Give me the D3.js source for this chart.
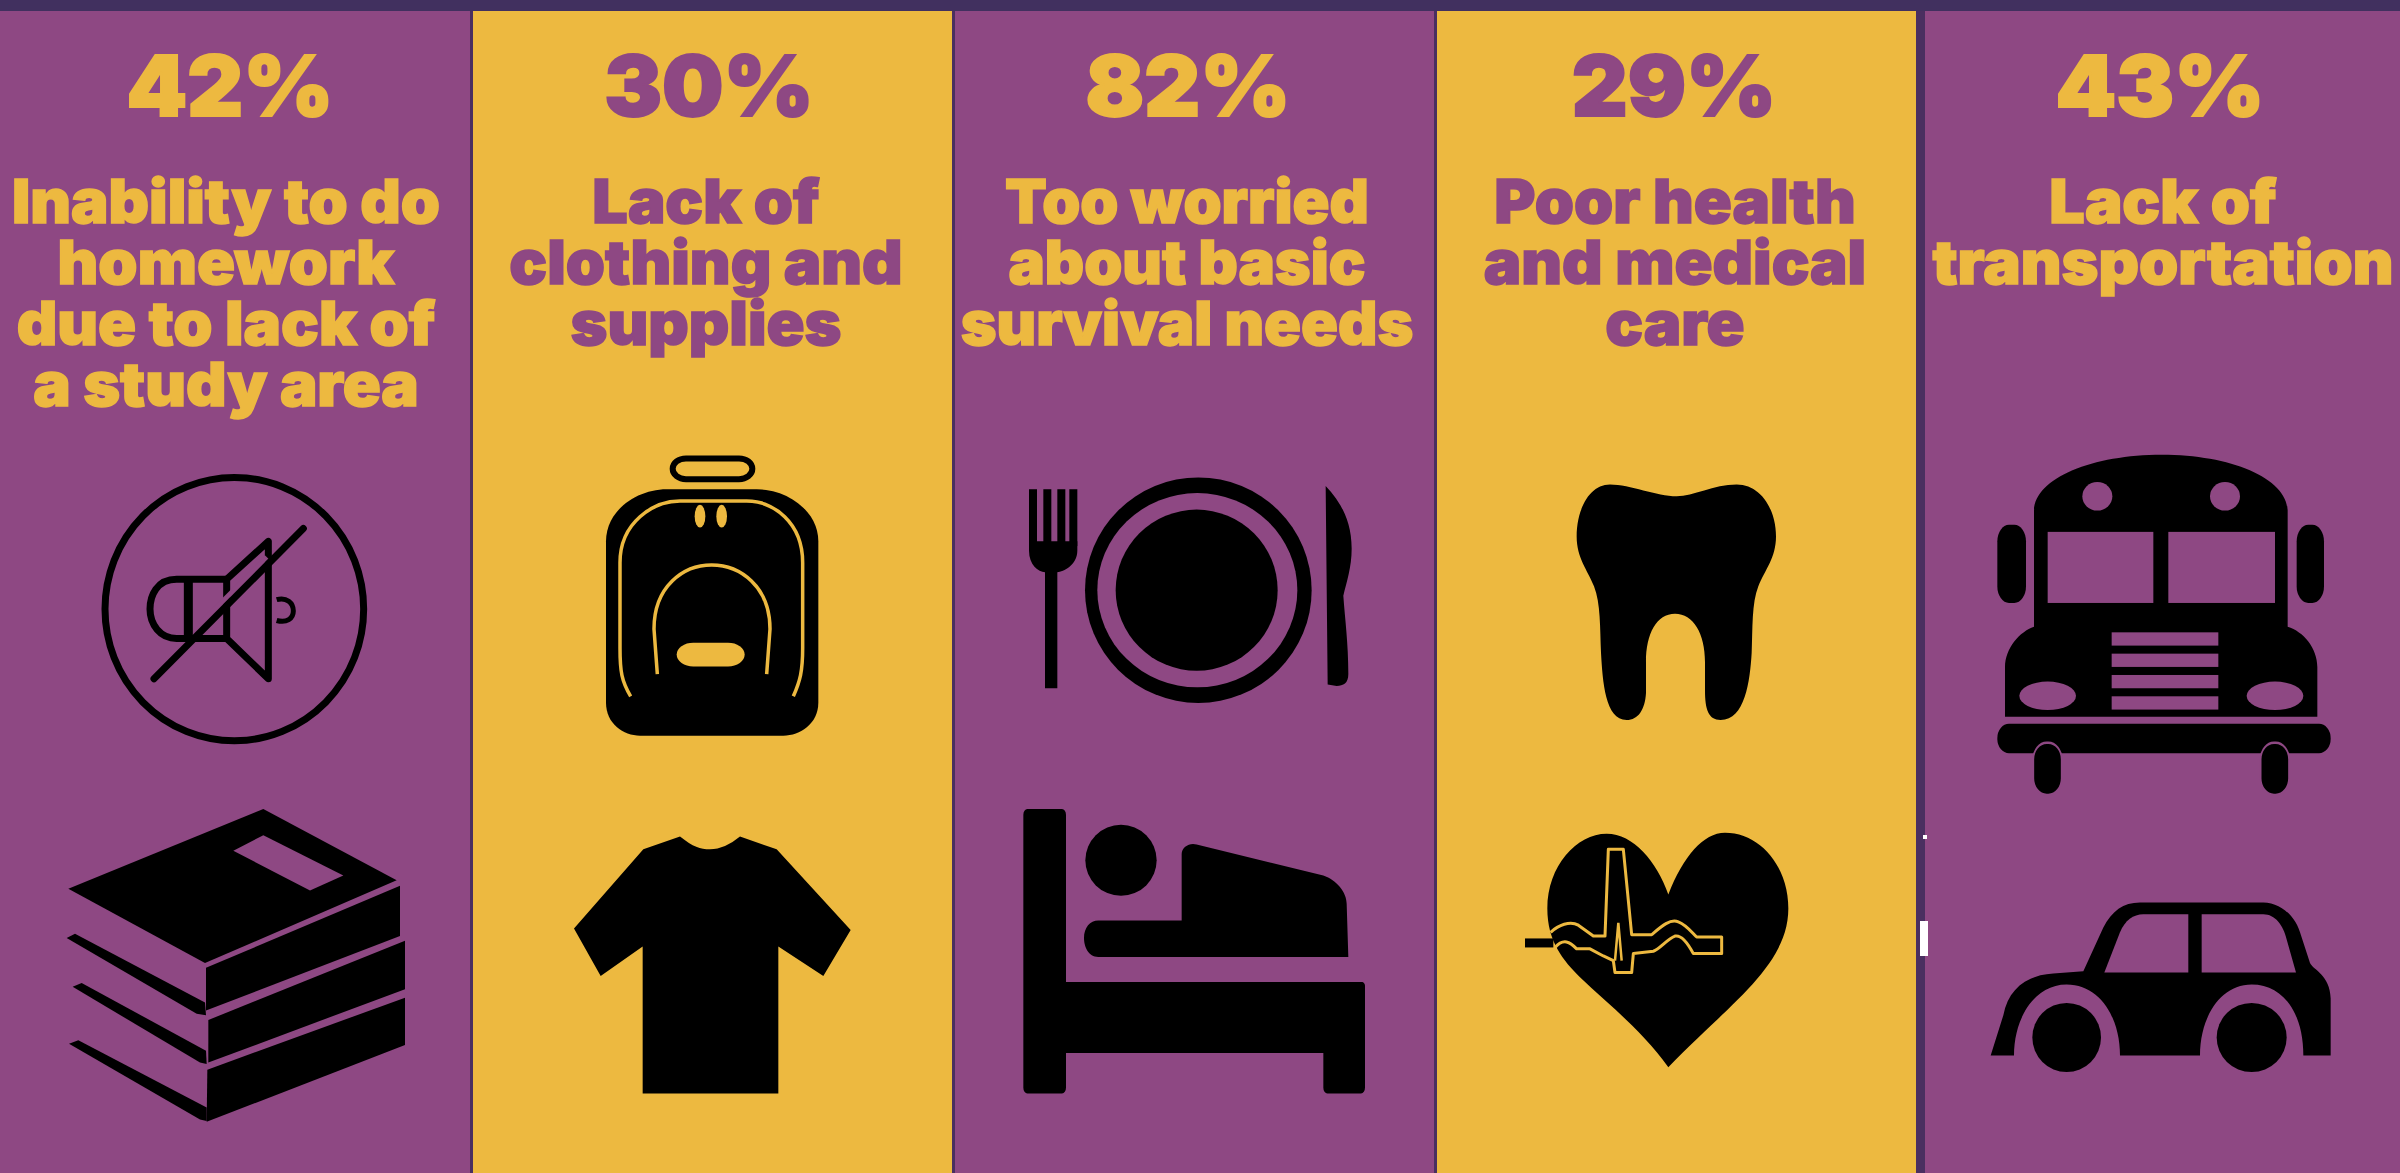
<!DOCTYPE html>
<html>
<head>
<title>Barriers</title>
<script src="https://d3js.org/d3.v7.min.js" charset="utf-8"></script>
<style>
html, body { margin: 0; padding: 0; background: #8e4883; overflow: hidden; }
svg { display: block; filter: blur(0.7px); }
text { font-family: "Inter", sans-serif; font-weight: 900; text-anchor: middle; }
.line { fill: none; stroke: #000; vector-effect: non-scaling-stroke; }
.line * { vector-effect: non-scaling-stroke; }
</style>
</head>
<body>
<script>
// values
var categories = ["study", "clothing", "survival", "health", "transport"];
var percents = [42, 30, 82, 29, 43];
var labels = [
  ["Inability to do", "homework", "due to lack of", "a study area"],
  ["Lack of", "clothing and", "supplies"],
  ["Too worried", "about basic", "survival needs"],
  ["Poor health", "and medical", "care"],
  ["Lack of", "transportation"]
];

var width = 2400, height = 1173;
var purple = "#8e4883", yellow = "#edb940", dark = "#41305f";

var x = d3.scaleBand().domain(categories).range([-10, 2400]);
var percentNudge = d3.scaleOrdinal().domain(categories).range([-1, -4, -7, -3, 1]);
var labelNudge = d3.scaleOrdinal().domain(categories).range([-5, -7, -8, -2, 4]);
var labelStretch = d3.scaleOrdinal().domain(categories).range([1.03, 1.03, 1, 1.03, 1.03]);
var iconNudge = d3.scaleOrdinal().domain(categories).range([10, 8, 6, -6, 2]);

var svg = d3.select("body").append("svg")
  .attr("width", width).attr("height", height);

var col = svg.selectAll("g.col")
  .data(categories)
  .enter().append("g")
  .attr("class", "col");

col.append("rect")
  .attr("x", function(d) { return x(d); })
  .attr("y", 0)
  .attr("width", x.bandwidth())
  .attr("height", height)
  .attr("fill", function(d, i) { return i % 2 ? yellow : purple; });

// thin dark seams between the columns
svg.selectAll("rect.seam")
  .data(categories.slice(1))
  .enter().append("rect")
  .attr("class", "seam")
  .attr("x", function(d) { return x(d) - 2; })
  .attr("y", 0)
  .attr("width", function(d, i) { return i == 3 ? 9 : 3; })
  .attr("height", height)
  .attr("fill", "#4a2f60");

svg.append("rect").attr("width", width).attr("height", 11).attr("fill", dark);

// percent
col.append("text")
  .attr("transform", function(d) {
    return "translate(" + (x(d) + x.bandwidth() / 2 + percentNudge(d)) + ",116) scale(1.03,1)";
  })
  .attr("font-size", 84)
  .attr("stroke-width", 2)
  .attr("fill", function(d, i) { return i % 2 ? purple : yellow; })
  .attr("stroke", function(d, i) { return i % 2 ? purple : yellow; })
  .text(function(d, i) { return percents[i] + "%"; });

// label lines
col.each(function(d, i) {
  d3.select(this).selectAll("text.label")
    .data(labels[i])
    .enter().append("text")
    .attr("class", "label")
    .attr("transform", function(t, j) {
      return "translate(" + (x(d) + x.bandwidth() / 2 + labelNudge(d)) + "," + (223 + j * 61) + ") scale(" + labelStretch(d) + ",1)";
    })
    .attr("font-size", 61)
    .attr("stroke-width", 1.5)
    .attr("fill", i % 2 ? purple : yellow)
    .attr("stroke", i % 2 ? purple : yellow)
    .text(t => t);
});

// icons are traced in crop units, so each sits in a squashed frame
var icons = col.append("g")
  .attr("transform", function(d) {
    return "translate(" + (x(d) + iconNudge(d)) + ",430) scale(" + (1 / 3) + "," + (743 / 1568) + ")";
  });

function path(g, d, fill) { return g.append("path").attr("d", d).attr("fill", fill || "#000"); }
function ell(g, cx, cy, rx, ry, fill) {
  return g.append("ellipse").attr("cx", cx).attr("cy", cy).attr("rx", rx).attr("ry", ry).attr("fill", fill || "#000");
}
function box(g, a, b, w, h, rx, ry, fill) {
  return g.append("rect").attr("x", a).attr("y", b).attr("width", w).attr("height", h)
    .attr("rx", rx || 0).attr("ry", ry || 0).attr("fill", fill || "#000");
}

// --- speaker and books
var g = icons.filter(function(d) { return d == "study"; });
var s = g.append("g").attr("class", "line").attr("stroke-width", 7);
s.append("ellipse").attr("cx", 703).attr("cy", 378).attr("rx", 388).attr("ry", 278);
s.append("path").attr("d", "M680,315 L805,235 L805,525 L680,440 Z").attr("stroke-linejoin", "round");
s.append("path").attr("d", "M680,315 L530,315 C470,315 450,350 450,378 C450,410 480,440 530,440 L680,440");
s.append("path").attr("d", "M565,315 L565,440").attr("stroke-width", 9);
s.append("path").attr("d", "M600,410 L800,268").attr("stroke", purple).attr("stroke-width", 5);
s.append("path").attr("d", "M462,525 L910,208").attr("stroke-linecap", "round");
s.append("path").attr("d", "M830,358 C860,352 880,365 880,382 C880,398 860,408 830,402").attr("stroke-width", 5);
path(g, "M205,968 L790,800 L1190,950 L615,1125 Z");
path(g, "M700,888 L790,855 L1030,940 L930,972 Z", purple);
path(g, "M618,1135 L1200,962 L1200,1068 L618,1225 Z");
path(g, "M200,1072 L225,1063 L615,1208 L618,1235 L590,1232 Z");
path(g, "M625,1245 L1215,1078 L1215,1180 L625,1335 Z");
path(g, "M218,1175 L245,1167 L618,1310 L620,1338 L600,1335 Z");
path(g, "M622,1350 L1215,1198 L1215,1298 L620,1460 Z");
path(g, "M207,1295 L235,1288 L620,1430 L620,1458 L600,1455 Z");

// --- backpack and shirt
g = icons.filter(function(d) { return d == "clothing"; });
g.append("rect").attr("class", "line").attr("stroke-width", 6)
  .attr("x", 578).attr("y", 60).attr("width", 239).attr("height", 44).attr("rx", 40).attr("ry", 22);
path(g, "M378,235 C378,170 470,125 560,125 L830,125 C920,125 1015,170 1015,235 L1015,575 C1015,620 960,645 910,645 L480,645 C430,645 378,620 378,575 Z");
g.append("path").attr("class", "line").attr("stroke-width", 3.5).style("stroke", yellow)
  .attr("d", "M452,562 C425,530 420,510 420,460 L420,280 C420,195 520,150 600,150 L800,150 C880,150 968,195 968,280 L968,460 C968,510 960,530 940,562");
g.append("path").attr("class", "line").attr("stroke-width", 3.5).style("stroke", yellow)
  .attr("d", "M532,515 L522,420 C522,330 610,285 695,285 C780,285 870,330 870,420 L860,515");
ell(g, 660, 182, 16, 24, yellow);
ell(g, 725, 182, 16, 24, yellow);
box(g, 590, 449, 204, 50, 50, 25, yellow);
path(g, "M600,858 C640,880 660,885 690,885 C720,885 750,875 780,858 L890,885 L1112,1055 L1030,1152 L895,1090 L895,1400 L488,1400 L488,1090 L362,1152 L282,1052 L490,885 Z");

// --- plate and bed
g = icons.filter(function(d) { return d == "survival"; });
[207, 250, 292, 328].forEach(function(a) { box(g, a, 125, 24, 120); });
path(g, "M207,235 L352,235 L352,255 C352,285 310,300 292,300 L292,545 L255,545 L255,300 C235,300 207,285 207,255 Z");
ell(g, 715, 338, 340, 238);
ell(g, 712, 338, 300, 205, purple);
ell(g, 710, 338, 243, 170);
path(g, "M1097,118 C1140,150 1175,190 1175,250 C1175,290 1160,320 1150,350 C1155,400 1165,450 1165,515 C1165,535 1150,540 1130,540 L1103,537 Z");
box(g, 190, 800, 128, 600, 12, 12);
box(g, 300, 1165, 915, 150, 10, 10);
box(g, 1090, 1165, 125, 235, 12, 12);
ell(g, 483, 908, 107, 75);
path(g, "M665,1035 L665,895 C665,880 690,870 710,875 L1090,940 C1130,950 1160,975 1160,1000 L1165,1112 L415,1112 C385,1112 372,1090 372,1072 C372,1050 390,1035 415,1035 Z");

// --- tooth and heart
g = icons.filter(function(d) { return d == "health"; });
path(g, "M540,115 C600,115 680,140 740,140 C790,140 850,115 920,115 C990,115 1038,165 1038,225 C1038,270 1005,295 985,330 C965,365 968,420 965,470 C960,530 945,612 872,612 C835,612 825,590 825,550 L825,490 C825,430 790,388 735,388 C680,388 648,430 648,490 L648,555 C645,590 625,612 590,612 C525,612 518,530 513,470 C510,420 512,365 492,330 C472,295 440,270 440,225 C440,165 480,115 540,115 Z");
path(g, "M715,980 C760,900 820,850 885,850 C990,850 1075,920 1075,1010 C1075,1130 900,1210 715,1345 C640,1270 540,1215 450,1155 C400,1120 352,1080 352,1010 C352,920 440,852 530,852 C610,852 680,910 715,980 Z");
box(g, 285, 1073, 85, 19);
g.append("path").attr("class", "line").attr("stroke-width", 3).style("stroke", yellow).attr("stroke-linejoin", "round")
  .attr("d", "M362,1060 C385,1045 420,1035 445,1045 L490,1068 L525,1068 L535,885 L580,885 L605,1065 L665,1065 C690,1050 720,1030 745,1038 C770,1045 785,1060 800,1070 L875,1070 L875,1105 L790,1105 C775,1085 755,1065 735,1068 C710,1075 690,1095 670,1100 L610,1105 L605,1145 L555,1145 L550,1120 L520,1110 L480,1095 L440,1095 C420,1080 400,1072 375,1092");
g.append("path").attr("class", "line").attr("stroke-width", 2.5).style("stroke", yellow)
  .attr("d", "M555,1120 L565,1040 L575,1120");

// --- bus and car
g = icons.filter(function(d) { return d == "transport"; });
path(g, "M342,415 L342,170 C345,100 520,52 725,52 C930,52 1100,100 1103,170 L1103,415 C1150,425 1192,460 1192,500 L1192,605 L255,605 L255,500 C255,460 300,425 342,415 Z");
ell(g, 532, 140, 45, 30, purple);
ell(g, 915, 140, 45, 30, purple);
box(g, 383, 215, 317, 150, 0, 0, purple);
box(g, 745, 215, 320, 150, 0, 0, purple);
[427, 472, 517, 562].forEach(function(b) { box(g, 575, b, 320, 28, 0, 0, purple); });
ell(g, 383, 561, 85, 30, purple);
ell(g, 1065, 561, 85, 30, purple);
box(g, 232, 200, 86, 165, 35, 35);
box(g, 1130, 200, 82, 165, 35, 35);
box(g, 232, 620, 1000, 62, 35, 30);
box(g, 340, 660, 85, 110, 40, 35).attr("stroke", purple).attr("stroke-width", 5);
box(g, 1022, 660, 85, 110, 40, 35).attr("stroke", purple).attr("stroke-width", 5);
path(g, "M212,1320 L250,1235 C265,1180 320,1150 400,1147 L490,1142 L550,1050 C575,1015 610,997 660,997 L1030,997 C1080,997 1125,1025 1140,1060 L1170,1125 C1180,1140 1230,1150 1232,1200 L1232,1320 L1150,1320 C1150,1230 1090,1170 995,1170 C900,1170 840,1240 840,1320 L600,1320 C600,1240 540,1170 440,1170 C345,1170 282,1240 282,1320 Z");
path(g, "M553,1145 L600,1060 C615,1035 640,1022 670,1022 L805,1022 L805,1145 Z", purple);
path(g, "M845,1145 L845,1022 L1030,1022 C1065,1022 1090,1045 1100,1075 L1128,1145 Z", purple);
ell(g, 440, 1282, 103, 73);
ell(g, 995, 1282, 105, 73);

// stray white specks on the last seam
svg.append("rect").attr("x", 1920).attr("y", 921).attr("width", 8).attr("height", 35).attr("fill", "#fff");
svg.append("rect").attr("x", 1923).attr("y", 835).attr("width", 4).attr("height", 4).attr("fill", "#fff");
</script>
</body>
</html>
